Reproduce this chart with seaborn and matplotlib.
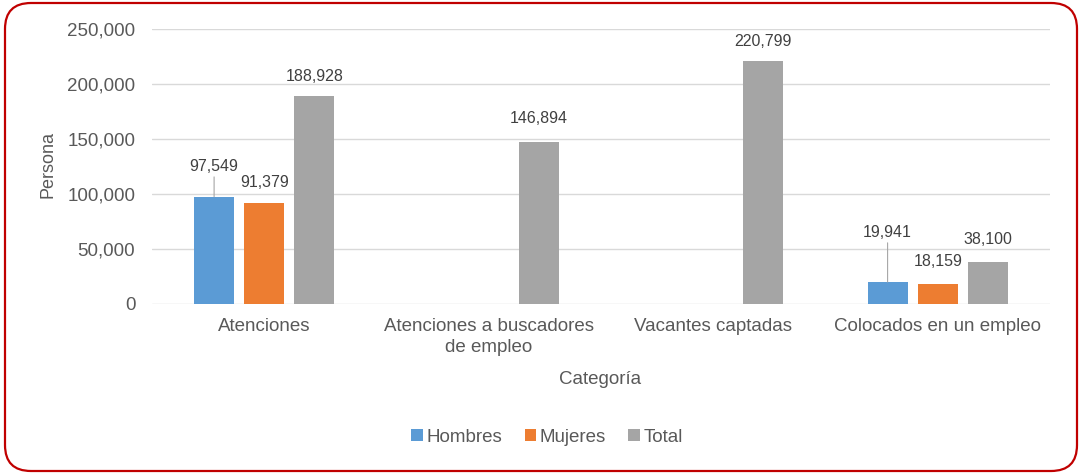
import pandas as pd
import seaborn as sns
import matplotlib.pyplot as plt
from matplotlib.patches import FancyBboxPatch
from matplotlib.transforms import IdentityTransform

# datos
categorias = ["Atenciones", "Atenciones a buscadores\nde empleo",
              "Vacantes captadas", "Colocados en un empleo"]
series = ["Hombres", "Mujeres", "Total"]
hombres = [97549, None, None, 19941]
mujeres = [91379, None, None, 18159]
total = [188928, 146894, 220799, 38100]
yticks = [0, 50000, 100000, 150000, 200000, 250000]

colores = ["#5B9BD5", "#ED7D31", "#A5A5A5"]

filas = []
for nombre, valores in zip(series, [hombres, mujeres, total]):
    for cat, v in zip(categorias, valores):
        if v is not None:
            filas.append({"Categoría": cat, "Persona": v, "Serie": nombre})
df = pd.DataFrame(filas)

sns.set_theme(style="white")
plt.rcParams["font.family"] = ["Liberation Sans", "DejaVu Sans"]

fig = plt.figure(figsize=(10.81, 4.73), dpi=100)
ax = fig.add_axes([0.1406, 0.3573, 0.8307, 0.5814])

sns.barplot(data=df, x="Categoría", y="Persona", hue="Serie",
            order=categorias, hue_order=series, palette=colores,
            saturation=1, width=0.67, gap=0.2, linewidth=0, ax=ax)

ax.set_xlim(-0.5, 3.5)
ax.set_ylim(0, 250000)
ax.set_yticks(yticks)
ax.set_yticklabels([f"{t:,}" for t in yticks])
ax.yaxis.grid(True, color="#D9D9D9", lw=1)
ax.set_axisbelow(True)
for s in ax.spines.values():
    s.set_visible(False)
ax.tick_params(axis="y", length=0, pad=12, labelsize=13.5, labelcolor="#595959")
ax.tick_params(axis="x", length=0, pad=10, labelsize=13.5, labelcolor="#595959")
for t in ax.get_xticklabels():
    t.set_linespacing(1.35)
ax.set_xlabel("")
ax.set_ylabel("")
fig.text(48 / 1081, 1 - 165 / 473, "Persona", rotation=90, ha="center",
         va="center", fontsize=13, color="#595959")
fig.text(600 / 1081, 1 - 379 / 473, "Categoría", ha="center",
         va="center", fontsize=13.5, color="#595959")

# etiquetas de datos (desplazamiento en puntos)
desplaz = {(0, 0): 22, (1, 0): 15, (0, 3): 36, (1, 3): 16, (2, 3): 16,
           (2, 1): 17}
for i, cont in enumerate(ax.containers):
    for bar in cont:
        h = bar.get_height()
        if not h or h != h:
            continue
        x = bar.get_x() + bar.get_width() / 2
        j = int(round(x))
        dy = desplaz.get((i, j), 14)
        flecha = None
        if dy > 20:
            flecha = dict(arrowstyle="-", color="#A6A6A6", lw=0.8,
                          shrinkA=0, shrinkB=0)
        ax.annotate(f"{int(h):,}", xy=(x, h), xytext=(0, dy),
                    textcoords="offset points", ha="center", va="center",
                    fontsize=11.5, color="#404040", arrowprops=flecha)

handles, labels = ax.get_legend_handles_labels()
if ax.get_legend() is not None:
    ax.get_legend().remove()
fig.legend(handles, labels, loc="center", bbox_to_anchor=(547 / 1081, 1 - 437 / 473),
           ncol=3, frameon=False, fontsize=13.5, handlelength=0.6, handleheight=0.6,
           handletextpad=0.2, columnspacing=1.2, labelcolor="#595959")

# marco rojo redondeado
marco = FancyBboxPatch((5, 2), 1072, 468, boxstyle="round,pad=0,rounding_size=26",
                       transform=IdentityTransform(), fill=False,
                       edgecolor="#C00000", lw=1.6)
fig.patches.append(marco)

fig.savefig("out.png", dpi=100)
